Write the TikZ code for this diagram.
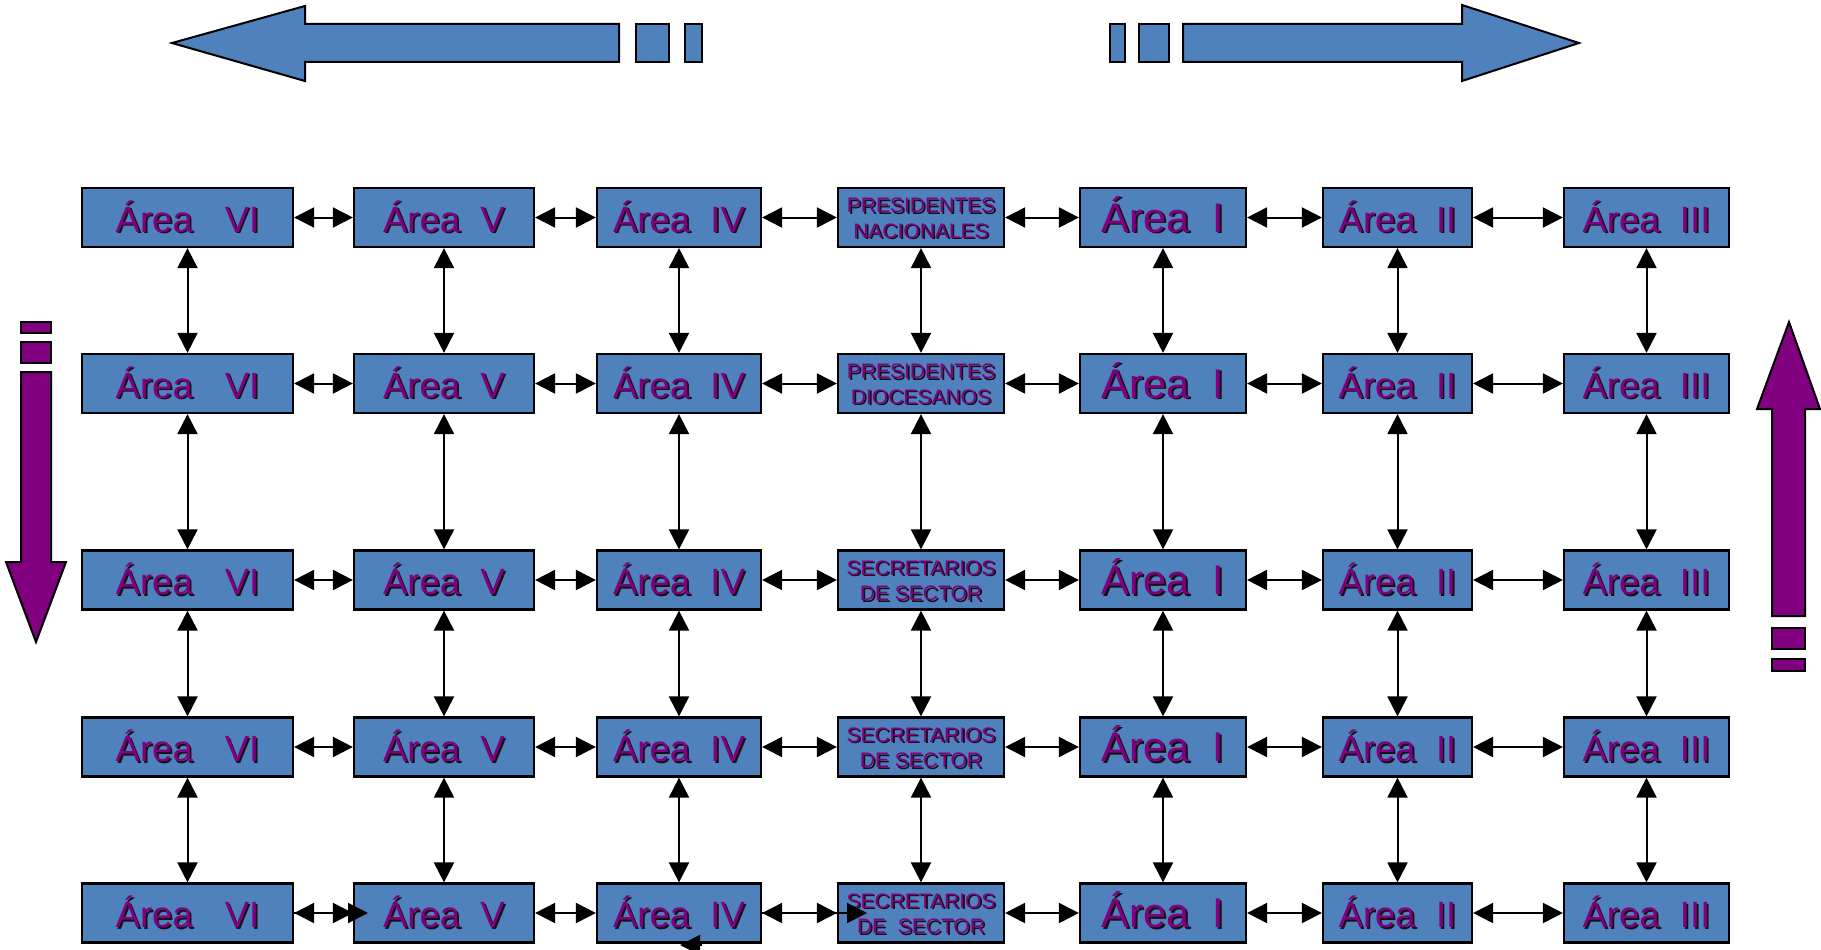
\documentclass[tikz,border=0pt]{standalone}
\usepackage{fontspec}
\setmainfont{Liberation Sans}
\usetikzlibrary{arrows.meta}
\definecolor{boxblue}{HTML}{4F81BD}
\definecolor{txtpurple}{HTML}{800080}
\definecolor{shadowc}{HTML}{111111}
\newcommand\shd[1]{\makebox[0pt][l]{\hspace{1.7pt}\raisebox{-1.7pt}{\color{shadowc}#1}}{\color{txtpurple}#1}}
\newcommand\twol[2]{\makebox[0pt]{\raisebox{12.75pt}{\shd{#1}}}\makebox[0pt]{\raisebox{-12.75pt}{\shd{#2}}}}
\tikzset{
 bx/.style={draw=black, line width=2.2pt, fill=boxblue, rectangle, inner sep=0pt,
   minimum height=59pt, text height=29pt, text depth=0pt,
   font=\fontsize{36.5}{40}\selectfont},
 bxI/.style={bx, font=\fontsize{41.5}{45}\selectfont},
 bxs/.style={bx, text height=15.5pt, font=\fontsize{21}{25}\selectfont},
 bi/.style={line width=2pt, {Triangle[length=20pt,width=20pt]}-{Triangle[length=20pt,width=20pt]}},
 onehead/.style={line width=2pt, -{Triangle[length=20pt,width=20pt]}},
 bigarrow/.style={draw=black, line width=2pt, fill=boxblue},
 purarrow/.style={draw=black, line width=2pt, fill=txtpurple},
}
\begin{document}
\begin{tikzpicture}[x=1pt,y=-1pt]
\useasboundingbox (0,0) rectangle (1821,950);
% big horizontal arrows
\path[bigarrow] (172,43) -- (305,6) -- (305,24) -- (619,24) -- (619,62) -- (305,62) -- (305,81) -- cycle;
\path[bigarrow] (636,24) rectangle (669,62);
\path[bigarrow] (685,24) rectangle (702,62);
\path[bigarrow] (1110,24) rectangle (1125,62);
\path[bigarrow] (1139,24) rectangle (1169,62);
\path[bigarrow] (1183,24) -- (1462,24) -- (1462,5) -- (1579,43) -- (1462,81) -- (1462,62) -- (1183,62) -- cycle;
% purple vertical arrows
\path[purarrow] (21,322) rectangle (51,333);
\path[purarrow] (21,342) rectangle (51,363);
\path[purarrow] (21,372) -- (51,372) -- (51,562) -- (66,562) -- (36,642) -- (6,562) -- (21,562) -- cycle;
\path[purarrow] (1789,322) -- (1820,409) -- (1805,409) -- (1805,616) -- (1772,616) -- (1772,409) -- (1757,409) -- cycle;
\path[purarrow] (1772,628) rectangle (1805,649);
\path[purarrow] (1772,659) rectangle (1805,671);
% boxes
\foreach \r/\y/\ta/\tb in {1/217.5/PRESIDENTES/NACIONALES,2/383.5/PRESIDENTES/DIOCESANOS,3/580/SECRETARIOS/{DE SECTOR},4/747/SECRETARIOS/{DE SECTOR},5/913/SECRETARIOS/{DE\ \ SECTOR}} {
  \node[bx, minimum width=211pt] (VI\r) at (187.5,\y) {\shd{Área\hspace{32pt}VI}};
  \node[bx, minimum width=180pt] (V\r) at (444,\y) {\shd{Área\ \ V}};
  \node[bx, minimum width=164pt] (IV\r) at (679,\y) {\shd{Área\ \ IV}};
  \node[bxs, minimum width=166pt] (P\r) at (921,\y) {\twol{\ta}{\tb}};
  \node[bxI, minimum width=166pt] (I\r) at (1163,\y) {\shd{Área\ \ I}};
  \node[bx, minimum width=149pt] (II\r) at (1397.5,\y) {\shd{Área\ \ II}};
  \node[bx, minimum width=165pt] (III\r) at (1646.5,\y) {\shd{Área\ \ III}};
}
% horizontal connectors
\foreach \r in {1,...,5} {
  \draw[bi] (VI\r.east) -- (V\r.west);
  \draw[bi] (V\r.east) -- (IV\r.west);
  \draw[bi] (IV\r.east) -- (P\r.west);
  \draw[bi] (P\r.east) -- (I\r.west);
  \draw[bi] (I\r.east) -- (II\r.west);
  \draw[bi] (II\r.east) -- (III\r.west);
}
% vertical connectors
\foreach \c in {VI,V,IV,P,I,II,III} {
  \foreach \r/\s in {1/2,2/3,3/4,4/5} {
    \draw[bi] (\c\r.south) -- (\c\s.north);
  }
}
% stray arrowheads in the bottom row
\coordinate (xa) at (368,913);
\coordinate (xb) at (867,913);
\coordinate (xc1) at (702,945);
\coordinate (xc2) at (680,945);
\draw[onehead] (VI5.east) -- (xa);
\draw[onehead] (IV5.east) -- (xb);
\draw[onehead] (xc1) -- (xc2);
\end{tikzpicture}
\end{document}
